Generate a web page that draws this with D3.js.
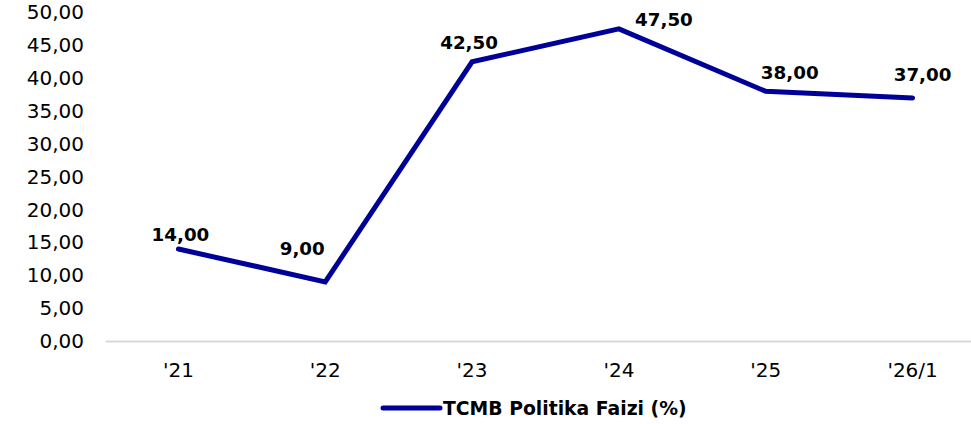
<!DOCTYPE html>
<meta charset="utf-8">
<title>TCMB Politika Faizi</title>
<script src="https://d3js.org/d3.v7.min.js"></script>
<style>
  body { margin: 0; background: #fff; }
  text { font-family: Verdana, "DejaVu Sans", sans-serif; }
</style>
<body>
</body>
<script>
  // data
  const categories = ["'21", "'22", "'23", "'24", "'25", "'26/1"];
  const rates = [14.00, 9.00, 42.50, 47.50, 38.00, 37.00];
  const yTicks = [0, 5, 10, 15, 20, 25, 30, 35, 40, 45, 50];
  const seriesName = "TCMB Politika Faizi (%)";

  // where each value label sits relative to its point (px)
  const labelShift = [[2, -8], [-23, -27], [-3, -13], [45, -3], [24, -12], [10, -17]];

  const width = 971, height = 424;
  const lineColor = "#000099";

  const fmt = v => d3.format(".2f")(v).replace(".", ",");

  const svg = d3.select("body").append("svg")
      .attr("width", width).attr("height", height);

  const x = d3.scaleBand().domain(categories).range([105, 986]);
  const y = d3.scaleLinear().domain([0, 50]).range([341, 12.5]);

  ////////////////////////// axes //////////////////////////

  const yAxis = svg.append("g")
      .attr("transform", "translate(84,0)")
      .call(d3.axisLeft(y).tickValues(yTicks).tickFormat(fmt).tickSize(0).tickPadding(0));
  yAxis.select(".domain").remove();
  yAxis.selectAll("text")
      .attr("font-size", 20).attr("fill", "#000")
      .style("font-family", "Verdana, 'DejaVu Sans', sans-serif");

  const xAxis = svg.append("g")
      .attr("transform", `translate(0,${y(0)})`)
      .call(d3.axisBottom(x).tickSize(0).tickPadding(22));
  xAxis.select(".domain").attr("stroke", "#d9d9d9").attr("stroke-width", 2);
  xAxis.selectAll("text")
      .attr("font-size", 20).attr("fill", "#000")
      .style("font-family", "Verdana, 'DejaVu Sans', sans-serif");

  ////////////////////////// line //////////////////////////

  const line = d3.line()
      .x((d, i) => x(categories[i]) + x.bandwidth() / 2)
      .y(d => y(d));

  svg.append("path")
      .datum(rates)
      .attr("d", line)
      .attr("fill", "none")
      .attr("stroke", lineColor)
      .attr("stroke-width", 5)
      .attr("stroke-linejoin", "miter")
      .attr("stroke-linecap", "round");

  svg.append("g")
      .selectAll("text")
      .data(rates)
      .join("text")
      .attr("x", (d, i) => x(categories[i]) + x.bandwidth() / 2 + labelShift[i][0])
      .attr("y", (d, i) => y(d) + labelShift[i][1])
      .attr("text-anchor", "middle")
      .attr("font-size", 18.3)
      .attr("font-weight", "bold")
      .attr("fill", "#000")
      .text(fmt);

  ////////////////////////// legend //////////////////////////

  const legend = svg.append("g").attr("transform", "translate(383,408)");
  legend.append("line")
      .attr("x1", 0).attr("x2", 57)
      .attr("stroke", lineColor).attr("stroke-width", 5)
      .attr("stroke-linecap", "round");
  legend.append("text")
      .attr("x", 60).attr("y", 7)
      .attr("font-size", 18.8)
      .attr("font-weight", "bold")
      .attr("fill", "#000")
      .text(seriesName);
</script>
